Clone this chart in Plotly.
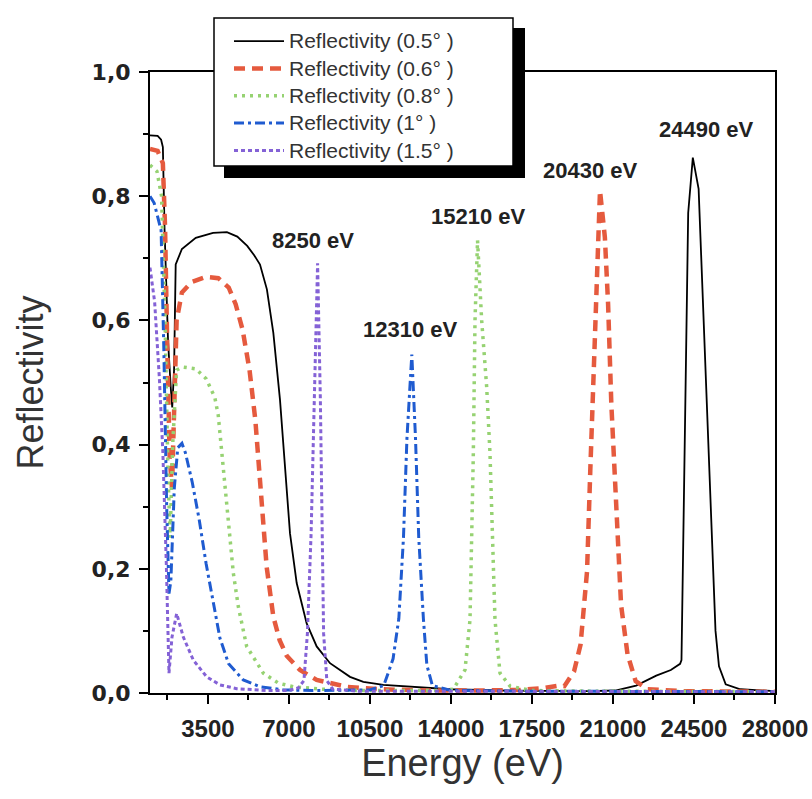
import plotly.graph_objects as go

# ---------------- data ----------------
series_names = ["Reflectivity (0.5° )", "Reflectivity (0.6° )", "Reflectivity (0.8° )",
                "Reflectivity (1° )", "Reflectivity (1.5° )"]

energy_05 = [1000, 1330, 1480, 1556, 1630, 1780, 1900, 1960, 2040, 2110, 2378, 2977, 3724, 4323,
             4771, 5200, 5500, 5752, 6050, 6328, 6616, 6832, 7048, 7337, 7768, 8200, 8776, 9640,
             10216, 11080, 12520, 13960, 16000, 18000, 20000, 21100, 22000, 22870, 23500, 23900,
             23960, 24250, 24450, 24700, 24850, 25070, 25300, 25430, 25580, 25870, 26500, 28000]
refl_05 = [0.898, 0.897, 0.891, 0.879, 0.745, 0.566, 0.49, 0.46, 0.52, 0.69, 0.715, 0.733, 0.741,
           0.742, 0.735, 0.72, 0.705, 0.69, 0.65, 0.58, 0.472, 0.364, 0.257, 0.177, 0.112, 0.075,
           0.048, 0.026, 0.018, 0.013, 0.010, 0.006, 0.004, 0.003, 0.003, 0.004, 0.012, 0.028,
           0.037, 0.047, 0.053, 0.773, 0.862, 0.812, 0.664, 0.434, 0.204, 0.10, 0.043, 0.014,
           0.006, 0.003]

energy_06 = [1000, 1330, 1556, 1650, 1750, 1850, 1950, 2050, 2150, 2378, 2800, 3400, 3950, 4400,
             4700, 5000, 5300, 5550, 5752, 6040, 6328, 6600, 6904, 7480, 8200, 9500, 11000, 13000,
             15000, 17000, 18000, 18660, 18900, 19320, 19600, 19880, 20020, 20160, 20300, 20440,
             20650, 20790, 20930, 21140, 21350, 21630, 21980, 22500, 24000, 28000]
refl_06 = [0.876, 0.873, 0.853, 0.75, 0.55, 0.38, 0.33, 0.45, 0.60, 0.645, 0.662, 0.670, 0.668,
           0.653, 0.626, 0.585, 0.52, 0.44, 0.34, 0.203, 0.123, 0.085, 0.06, 0.037, 0.021, 0.010,
           0.006, 0.004, 0.004, 0.005, 0.008, 0.012, 0.011, 0.035, 0.078, 0.196, 0.358, 0.519,
           0.68, 0.809, 0.734, 0.626, 0.465, 0.304, 0.142, 0.062, 0.019, 0.006, 0.003, 0.002]

energy_08 = [1000, 1300, 1500, 1650, 1780, 1870, 1980, 2150, 2400, 2977, 3425, 3800, 3949, 4098,
             4248, 4397, 4600, 4816, 5176, 5896, 6544, 7192, 8500, 10000, 12000, 13500, 14100,
             14608, 14824, 14896, 14968, 15040, 15150, 15328, 15544, 15688, 15832, 15904, 16120,
             16552, 17500, 20000, 28000]
refl_08 = [0.85, 0.84, 0.80, 0.60, 0.35, 0.25, 0.40, 0.52, 0.525, 0.522, 0.506, 0.476, 0.447,
           0.387, 0.327, 0.267, 0.193, 0.139, 0.075, 0.032, 0.016, 0.010, 0.006, 0.004, 0.004,
           0.004, 0.006, 0.037, 0.118, 0.225, 0.386, 0.60, 0.729, 0.60, 0.493, 0.386, 0.225,
           0.118, 0.032, 0.011, 0.004, 0.003, 0.002]

energy_10 = [1000, 1180, 1480, 1600, 1720, 1820, 1900, 2050, 2200, 2380, 2528, 2827, 3126, 3425,
             3724, 4023, 4397, 5032, 5752, 6760, 8000, 9500, 10500, 11100, 11500, 11750, 11950,
             12100, 12310, 12470, 12610, 12810, 12960, 13200, 14000, 17000, 28000]
refl_10 = [0.80, 0.789, 0.745, 0.55, 0.30, 0.16, 0.18, 0.33, 0.395, 0.402, 0.387, 0.339, 0.279,
           0.208, 0.148, 0.088, 0.047, 0.021, 0.010, 0.005, 0.004, 0.004, 0.005, 0.012, 0.055,
           0.12, 0.25, 0.41, 0.545, 0.41, 0.25, 0.12, 0.045, 0.012, 0.004, 0.003, 0.002]

energy_15 = [1000, 1200, 1406, 1556, 1705, 1780, 1820, 1950, 2152, 2440, 2872, 3448, 4024, 4744,
             6000, 7000, 7400, 7650, 7800, 7960, 8090, 8240, 8360, 8430, 8500, 8640, 8900, 10000,
             28000]
refl_15 = [0.685, 0.63, 0.506, 0.387, 0.208, 0.058, 0.032, 0.09, 0.128, 0.09, 0.053, 0.026, 0.013,
           0.007, 0.004, 0.004, 0.008, 0.02, 0.096, 0.257, 0.472, 0.692, 0.472, 0.257, 0.096,
           0.02, 0.006, 0.003, 0.002]

peak_labels = ["8250 eV", "12310 eV", "15210 eV", "20430 eV", "24490 eV"]

x_tick_vals = [3500, 7000, 10500, 14000, 17500, 21000, 24500, 28000]
x_tick_text = ["3500", "7000", "10500", "14000", "17500", "21000", "24500", "28000"]
y_tick_vals = [0.0, 0.2, 0.4, 0.6, 0.8, 1.0]
y_tick_text = ["0,0", "0,2", "0,4", "0,6", "0,8", "1,0"]

# ---------------- styling / placement ----------------
styles = [
    dict(color="#000000", width=1.8, dash="solid"),
    dict(color="#e55a3e", width=4.5, dash="11px,7px"),
    dict(color="#96d272", width=3.5, dash="3px,5px"),
    dict(color="#1f5bd0", width=3, dash="10px,4px,3px,4px"),
    dict(color="#8462d6", width=3, dash="4px,3px"),
]
label_pos = [(8042, 0.728), (12232, 0.585), (15170, 0.767), (20040, 0.841), (25062, 0.907)]

energies = [energy_05, energy_06, energy_08, energy_10, energy_15]
refls = [refl_05, refl_06, refl_08, refl_10, refl_15]

fig = go.Figure()
for name, xs, ys, st in zip(series_names, energies, refls, styles):
    fig.add_trace(go.Scatter(x=xs, y=ys, mode="lines",
                             name='<span style="font-size:21px">' + name + '</span>', line=st))

for txt, (lx, ly) in zip(peak_labels, label_pos):
    fig.add_annotation(x=lx, y=ly, text=txt, showarrow=False,
                       font=dict(family="Liberation Sans", size=22, color="#222222", weight="bold"))

L, T, PW, PH = 150, 72, 625, 621
def px(xp):
    return (xp - L) / PW
def py(yp):
    return (T + PH - yp) / PH

# legend shadow + box
fig.add_shape(type="rect", xref="paper", yref="paper", x0=px(224), x1=px(525), y0=py(178), y1=py(28),
              fillcolor="black", line=dict(width=0), layer="above")
fig.add_shape(type="rect", xref="paper", yref="paper", x0=px(214), x1=px(513), y0=py(166), y1=py(18),
              fillcolor="white", line=dict(color="black", width=1.5), layer="above")

axis_common = dict(showgrid=False, zeroline=False, showline=True, linecolor="black", linewidth=2,
                   mirror=True, ticks="outside", ticklen=9, tickwidth=2, tickcolor="black",
                   automargin=False, tickangle=0)

fig.update_layout(
    width=812, height=799,
    margin=dict(l=L, r=812 - L - PW, t=T, b=799 - T - PH),
    paper_bgcolor="white", plot_bgcolor="white",
    showlegend=True,
    legend=dict(x=px(229), y=py(22.5), xanchor="left", yanchor="top", bgcolor="rgba(0,0,0,0)",
                borderwidth=0, font=dict(family="Liberation Sans", size=18.7, color="#333333"),
                itemwidth=50, tracegroupgap=0),
    xaxis=dict(range=[1000, 28000], tickvals=x_tick_vals, ticktext=x_tick_text,
               minor=dict(dtick=1750, tick0=0, ticks="outside", ticklen=5, tickwidth=2, tickcolor="black"),
               tickfont=dict(family="Liberation Sans", size=24, color="#222222", weight="bold"),
               ticklabelstandoff=4,
               title=dict(text="Energy (eV)", standoff=1,
                          font=dict(family="Liberation Sans", size=38, color="#333333")),
               **axis_common),
    yaxis=dict(range=[0, 1.0], tickvals=y_tick_vals, ticktext=y_tick_text,
               minor=dict(dtick=0.1, tick0=0, ticks="outside", ticklen=5, tickwidth=2, tickcolor="black"),
               tickfont=dict(family="DejaVu Sans", size=22, color="#222222", weight="bold"),
               ticklabelstandoff=4,
               title=dict(text="Reflectivity", standoff=37,
                          font=dict(family="Liberation Sans", size=36, color="#333333")),
               **axis_common),
)

fig.write_html("out.html", config={"displayModeBar": False},
               post_script="document.body.style.margin='0';")
